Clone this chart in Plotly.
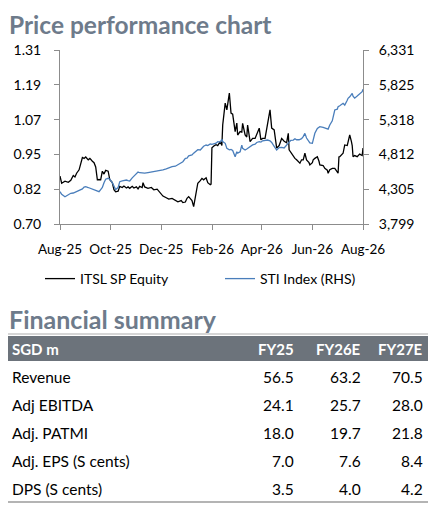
import plotly.graph_objects as go

# browser page has an 8px body margin, so the figure is drawn 8px in from the top-left
OFF = 8
W, H = 430, 507

# ---------------- data ----------------
dates = [
    "2025-08-01","2025-08-03","2025-08-07","2025-08-11","2025-08-14","2025-08-17","2025-08-19","2025-08-21",
    "2025-08-24","2025-08-26","2025-08-28","2025-08-30","2025-09-01","2025-09-04","2025-09-06","2025-09-09",
    "2025-09-11","2025-09-13","2025-09-15","2025-09-17","2025-09-19","2025-09-21","2025-09-23","2025-09-25",
    "2025-09-28","2025-09-30","2025-10-03","2025-10-05","2025-10-07","2025-10-10","2025-10-12","2025-10-15",
    "2025-10-17","2025-10-20","2025-10-22","2025-10-24","2025-10-27","2025-10-29","2025-11-01","2025-11-03",
    "2025-11-05","2025-11-08","2025-11-09","2025-11-11","2025-11-15","2025-11-19","2025-11-22","2025-11-26",
    "2025-11-29","2025-12-03","2025-12-07","2025-12-10","2025-12-14","2025-12-18","2025-12-21","2025-12-25",
    "2025-12-27","2025-12-30","2026-01-01","2026-01-03","2026-01-05","2026-01-07","2026-01-09","2026-01-12",
    "2026-01-14","2026-01-17","2026-01-19","2026-01-21","2026-01-24","2026-01-26","2026-01-29","2026-01-30",
    "2026-01-31","2026-02-03","2026-02-05","2026-02-07","2026-02-10","2026-02-12","2026-02-13","2026-02-16",
    "2026-02-18","2026-02-21","2026-02-23","2026-02-25","2026-02-28","2026-03-02","2026-03-03","2026-03-06",
    "2026-03-08","2026-03-09","2026-03-12","2026-03-14","2026-03-15","2026-03-18","2026-03-20","2026-03-21",
    "2026-03-24","2026-03-26","2026-03-29","2026-03-31","2026-04-02","2026-04-05","2026-04-08","2026-04-11",
    "2026-04-13","2026-04-16","2026-04-19","2026-04-22","2026-04-25","2026-04-28","2026-05-01","2026-05-03",
    "2026-05-04","2026-05-06","2026-05-09","2026-05-11","2026-05-13","2026-05-16","2026-05-17","2026-05-19",
    "2026-05-21","2026-05-23","2026-05-25","2026-05-28","2026-05-29","2026-06-01","2026-06-02","2026-06-04",
    "2026-06-07","2026-06-09","2026-06-10","2026-06-14","2026-06-16","2026-06-19","2026-06-20","2026-06-22",
    "2026-06-25","2026-06-28","2026-07-01","2026-07-02","2026-07-03","2026-07-04","2026-07-08","2026-07-10",
    "2026-07-13","2026-07-14","2026-07-16","2026-07-18","2026-07-19","2026-07-20","2026-07-22","2026-07-25",
    "2026-07-27","2026-07-28","2026-07-31","2026-08-01",
]

itsl = [
    0.868,0.843,0.850,0.846,0.853,0.870,0.865,0.878,
    0.890,0.910,0.933,0.930,0.935,0.925,0.930,0.920,
    0.915,0.900,0.855,0.856,0.855,0.885,0.875,0.888,
    0.885,0.855,0.845,0.820,0.813,0.815,0.832,0.828,
    0.833,0.826,0.830,0.825,0.832,0.826,0.830,0.823,
    0.832,0.828,0.845,0.830,0.825,0.828,0.820,0.822,
    0.810,0.798,0.792,0.787,0.790,0.783,0.778,0.782,
    0.775,0.777,0.790,0.796,0.788,0.782,0.761,0.820,
    0.843,0.852,0.860,0.855,0.862,0.845,0.838,0.840,
    0.967,0.975,0.978,0.975,0.989,0.975,1.047,1.124,
    1.100,1.159,1.089,1.085,1.024,1.054,1.012,1.024,
    1.022,1.053,1.012,1.005,1.047,0.989,0.995,1.000,
    1.000,1.012,1.036,0.995,1.000,1.000,1.054,1.100,
    1.036,1.030,0.966,0.975,1.000,0.990,0.985,1.018,
    0.960,0.950,0.936,0.930,0.925,0.918,0.913,0.925,
    0.925,0.948,0.925,0.915,0.907,0.915,0.925,0.930,
    0.936,0.920,0.907,0.905,0.895,0.889,0.878,0.890,
    0.895,0.895,0.885,0.878,0.935,0.936,0.948,0.977,
    0.975,0.985,1.012,0.990,0.975,0.936,0.940,0.936,
    0.940,0.945,0.940,0.966,
]

sti = [
    4269,4230,4196,4230,4246,4250,4260,4275,
    4290,4300,4310,4335,4342,4330,4320,4310,
    4295,4285,4275,4269,4300,4330,4400,4450,
    4464,4450,4400,4340,4300,4330,4415,4425,
    4435,4439,4430,4425,4470,4495,4540,4555,
    4545,4537,4540,4540,4548,4555,4560,4565,
    4575,4585,4600,4615,4633,4640,4660,4695,
    4705,4755,4758,4790,4800,4803,4830,4860,
    4880,4876,4900,4930,4948,4940,4965,4960,
    4958,4968,4975,4997,4990,5031,5000,4973,
    4900,4878,4885,4870,4778,4850,4830,4851,
    4948,4900,4876,4890,4900,4930,4948,4950,
    4960,4985,4997,4990,5010,5015,5021,5010,
    4985,4930,4876,4910,4915,4905,4940,4973,
    4990,5015,5021,5040,5025,5025,5030,5040,
    5070,5118,5050,5000,4980,4973,5040,5120,
    5191,5205,5215,5205,5200,5185,5180,5240,
    5300,5458,5470,5506,5510,5520,5555,5530,
    5600,5628,5650,5680,5700,5660,5630,5660,
    5680,5700,5724,5760,
]

x_tick_dates = ["2025-08-01","2025-10-01","2025-12-01","2026-02-01","2026-04-01","2026-06-01","2026-08-01"]
x_tick_labels = ["Aug-25","Oct-25","Dec-25","Feb-26","Apr-26","Jun-26","Aug-26"]
left_ticks = [0.70, 0.822, 0.944, 1.066, 1.188, 1.31]
left_tick_labels = ["0.70","0.82","0.95","1.07","1.19","1.31"]
right_ticks = [3799, 4305.4, 4811.8, 5318.2, 5824.6, 6331]
right_tick_labels = ["3,799","4,305","4,812","5,318","5,825","6,331"]

series_names = ["ITSL SP Equity", "STI Index (RHS)"]

table_header = ["SGD m", "FY25", "FY26E", "FY27E"]
row_labels = ["Revenue", "Adj EBITDA", "Adj. PATMI", "Adj. EPS (S cents)", "DPS (S cents)"]
fy25 = ["56.5", "24.1", "18.0", "7.0", "3.5"]
fy26e = ["63.2", "25.7", "19.7", "7.6", "4.0"]
fy27e = ["70.5", "28.0", "21.8", "8.4", "4.2"]

# ---------------- styling helpers ----------------
FONT = "Lato"
TITLE_COLOR = "#6E7B8B"
AXIS_COLOR = "#8C8C8C"
BAND_COLOR = "#6C737B"


def px(x):
    """screen pixel x -> paper fraction"""
    return (x - OFF) / W


def py(y):
    """screen pixel y -> paper fraction"""
    return 1 - (y - OFF) / H


fig = go.Figure()
fig.add_trace(go.Scatter(x=dates, y=itsl, name=series_names[0], mode="lines",
                         line=dict(color="#000000", width=1.3), yaxis="y"))
fig.add_trace(go.Scatter(x=dates, y=sti, name=series_names[1], mode="lines",
                         line=dict(color="#4A7EBB", width=1.3), yaxis="y2"))

axis_common = dict(showgrid=False, zeroline=False, showline=True, linecolor=AXIS_COLOR,
                   linewidth=1, ticks="outside", ticklen=5, tickcolor=AXIS_COLOR,
                   automargin=False,
                   tickfont=dict(family=FONT, size=14, color="#000000"))

fig.update_layout(
    width=W, height=H,
    margin=dict(l=0, r=0, t=0, b=0, autoexpand=False),
    paper_bgcolor="white", plot_bgcolor="white",
    font=dict(family=FONT, color="#000000"),
    showlegend=True,
    legend=dict(orientation="h", x=px(40), y=py(279), xanchor="left", yanchor="middle",
                font=dict(family=FONT, size=14, color="#000000"),
                entrywidth=135, entrywidthmode="pixels", itemwidth=30,
                bgcolor="rgba(0,0,0,0)"),
    xaxis=dict(domain=[px(60), px(363)], type="date",
               range=["2025-08-01", "2026-08-01"],
               tickmode="array", tickvals=x_tick_dates, ticktext=x_tick_labels,
               tickangle=0, ticklabelstandoff=8, **{**axis_common,
                                                   "tickfont": dict(family=FONT, size=13.5, color="#000000")}),
    yaxis=dict(domain=[py(224), py(50)], range=[0.70, 1.31],
               tickmode="array", tickvals=left_ticks, ticktext=left_tick_labels,
               ticklabelstandoff=10, **axis_common),
    yaxis2=dict(overlaying="y", side="right", range=[3799, 6331],
                tickmode="array", tickvals=right_ticks, ticktext=right_tick_labels,
                ticklabelstandoff=7, anchor="x", **axis_common),
)

annotations = []
shapes = []

# Section titles
annotations.append(dict(text="<b>Price performance chart</b>", x=px(7), y=py(8), xref="paper", yref="paper",
                        xanchor="left", yanchor="top", showarrow=False,
                        font=dict(family=FONT, size=24.5, color=TITLE_COLOR)))
annotations.append(dict(text="<b>Financial summary</b>", x=px(7), y=py(319), xref="paper", yref="paper",
                        xanchor="left", yanchor="middle", showarrow=False,
                        font=dict(family=FONT, size=25, color=TITLE_COLOR)))

# Table lines and header band
shapes.append(dict(type="line", xref="paper", yref="paper", x0=px(5), x1=px(428), y0=py(334), y1=py(334),
                   line=dict(color="#C8C8C8", width=1.5)))
shapes.append(dict(type="rect", xref="paper", yref="paper", x0=px(5), x1=px(428), y0=py(361), y1=py(336),
                   fillcolor=BAND_COLOR, line=dict(width=0), layer="below"))
shapes.append(dict(type="line", xref="paper", yref="paper", x0=px(5), x1=px(428), y0=py(502), y1=py(502),
                   line=dict(color="#B4B4B4", width=2)))

col_x = [10, 296, 363, 425]
col_anchor = ["left", "right", "right", "right"]
for i, h in enumerate(table_header):
    annotations.append(dict(text=f"<b>{h}</b>", x=px(col_x[i]), y=py(348.5), xref="paper", yref="paper",
                            xanchor=col_anchor[i], yanchor="middle", showarrow=False,
                            font=dict(family=FONT, size=15, color="#FFFFFF")))

row_y = [377, 405, 433, 461, 489]
for r, lab in enumerate(row_labels):
    cells = [lab, fy25[r], fy26e[r], fy27e[r]]
    for i, c in enumerate(cells):
        annotations.append(dict(text=c, x=px(col_x[i]), y=py(row_y[r]), xref="paper", yref="paper",
                                xanchor=col_anchor[i], yanchor="middle", showarrow=False,
                                font=dict(family=FONT, size=15.5, color="#000000")))

fig.update_layout(annotations=annotations, shapes=shapes)

fig.write_html("out.html")
